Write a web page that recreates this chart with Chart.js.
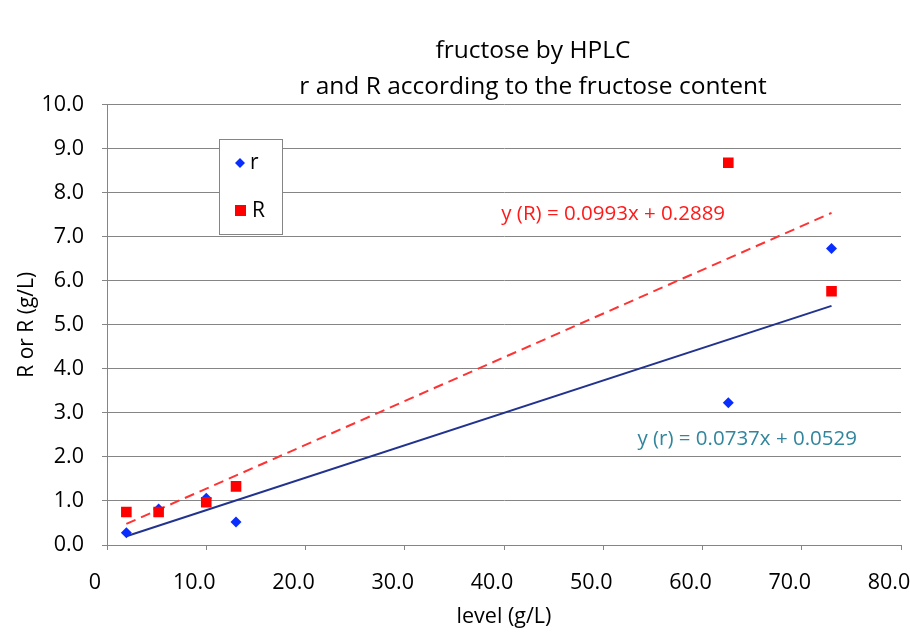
<!DOCTYPE html>
<html>
<head>
<meta charset="utf-8">
<script src="https://cdn.jsdelivr.net/npm/chart.js@4/dist/chart.umd.min.js"></script>
<style>
  html, body { margin: 0; padding: 0; background: #fff; }
  #wrap { width: 910px; height: 632px; }
</style>
</head>
<body>
<div id="wrap"><canvas id="fructoseChart" width="910" height="632"></canvas></div>
<script>
// ===== data =====
const levels   = [1.95, 5.2, 10.0, 13.0, 62.6, 73.0];   // level (g/L)
const rValues  = [0.28, 0.82, 1.06, 0.52, 3.23, 6.73];  // r
const RValues  = [0.75, 0.75, 0.97, 1.33, 8.68, 5.76];  // R
const trendX   = [1.95, 73.0];
const rTrendY  = [0.20, 5.43];   // y (r) = 0.0737x + 0.0529
const RTrendY  = [0.48, 7.54];   // y (R) = 0.0993x + 0.2889
const titleLines = ['fructose by HPLC', 'r and R according to the fructose content'];
const rEquation = 'y (r) = 0.0737x + 0.0529';
const REquation = 'y (R) = 0.0993x + 0.2889';

const FONT = "'Open Sans', 'Noto Sans', sans-serif";
const GRID = '#858585';

const toPoints = (xs, ys) => xs.map((x, i) => ({ x, y: ys[i] }));

// legend box + equation labels, drawn inside the plot
const extrasPlugin = {
  id: 'extras',
  afterLayout(chart) {
    // title is centred a bit right of the canvas centre in the original
    chart.titleBlock.left = 156;
    chart.titleBlock.right = 910;
  },
  afterDatasetsDraw(chart) {
    const { ctx, scales: { x, y } } = chart;
    ctx.save();

    // legend
    const lx = 219, ly = 139, lw = 63, lh = 95;
    ctx.fillStyle = '#fff';
    ctx.fillRect(lx, ly, lw, lh);
    ctx.strokeStyle = GRID;
    ctx.lineWidth = 1;
    ctx.strokeRect(lx + 0.5, ly + 0.5, lw, lh);

    ctx.fillStyle = '#0A2DFF';
    ctx.beginPath();
    ctx.moveTo(240, 158); ctx.lineTo(245, 163); ctx.lineTo(240, 168); ctx.lineTo(235, 163);
    ctx.closePath(); ctx.fill();
    ctx.fillStyle = '#FF0000';
    ctx.fillRect(235, 205, 11, 11);

    ctx.fillStyle = '#000';
    ctx.font = '21px ' + FONT;
    ctx.textBaseline = 'middle';
    ctx.textAlign = 'left';
    ctx.fillText('r', 250, 163);
    ctx.fillText('R', 252, 211);

    // trend equations
    ctx.font = '20.5px ' + FONT;
    ctx.textAlign = 'center';
    ctx.fillStyle = '#FF1A1A';
    ctx.fillText(REquation, x.getPixelForValue(51), y.getPixelForValue(7.5));
    ctx.fillStyle = '#31859C';
    ctx.fillText(rEquation, x.getPixelForValue(64.5), y.getPixelForValue(2.41));
    ctx.restore();
  }
};

const ctx = document.getElementById('fructoseChart').getContext('2d');
new Chart(ctx, {
  type: 'scatter',
  data: {
    datasets: [
      { label: 'R', data: toPoints(levels, RValues), pointStyle: 'rect', pointRadius: 7.5,
        backgroundColor: '#FF0000', borderColor: '#FF0000', borderWidth: 0, order: 0 },
      { label: 'r', data: toPoints(levels, rValues), pointStyle: 'rectRot', pointRadius: 5.5,
        backgroundColor: '#0A2DFF', borderColor: '#0A2DFF', borderWidth: 0, order: 1 },
      { label: 'trend R', type: 'line', data: toPoints(trendX, RTrendY), showLine: true,
        borderColor: '#FF3333', borderWidth: 2, borderDash: [10, 6], pointRadius: 0, order: 2 },
      { label: 'trend r', type: 'line', data: toPoints(trendX, rTrendY), showLine: true,
        borderColor: '#22338F', borderWidth: 2, pointRadius: 0, order: 3 },
    ]
  },
  options: {
    responsive: false,
    animation: false,
    layout: { padding: { left: 0, right: 9, top: 0, bottom: 0 } },
    scales: {
      x: {
        type: 'linear', min: 0, max: 80,
        afterFit(scale) { scale.height = 87; scale.paddingLeft = 0; scale.paddingRight = 0; },
        grid: { drawOnChartArea: false, drawTicks: true, tickLength: 5, color: GRID },
        border: { display: true, color: GRID, width: 1 },
        ticks: {
          stepSize: 10, padding: 20, color: '#000', labelOffset: -12,
          font: { family: FONT, size: 21.5 },
          callback: v => v === 0 ? '0' : v.toFixed(1)
        },
        title: { display: true, text: 'level (g/L)', color: '#000',
          font: { family: FONT, size: 21.5 }, padding: { top: 0, bottom: 2 } }
      },
      y: {
        type: 'linear', min: 0, max: 10,
        afterFit(scale) { scale.width = 107; },
        grid: { color: GRID, tickLength: 5, lineWidth: 1 },
        border: { display: true, color: GRID, width: 1 },
        ticks: {
          stepSize: 1, padding: 18, color: '#000',
          font: { family: FONT, size: 21.5 },
          callback: v => v.toFixed(1)
        },
        title: { display: true, text: 'R or R (g/L)', color: '#000',
          font: { family: FONT, size: 21 }, padding: { top: 14, bottom: 0 } }
      }
    },
    plugins: {
      legend: { display: false },
      tooltip: { enabled: false },
      title: {
        display: true, text: titleLines, color: '#000',
        font: { family: FONT, size: 24.5, weight: 'normal', lineHeight: 1.46 },
        padding: { top: 33, bottom: 0 }
      }
    }
  },
  plugins: [extrasPlugin]
});
</script>
</body>
</html>
